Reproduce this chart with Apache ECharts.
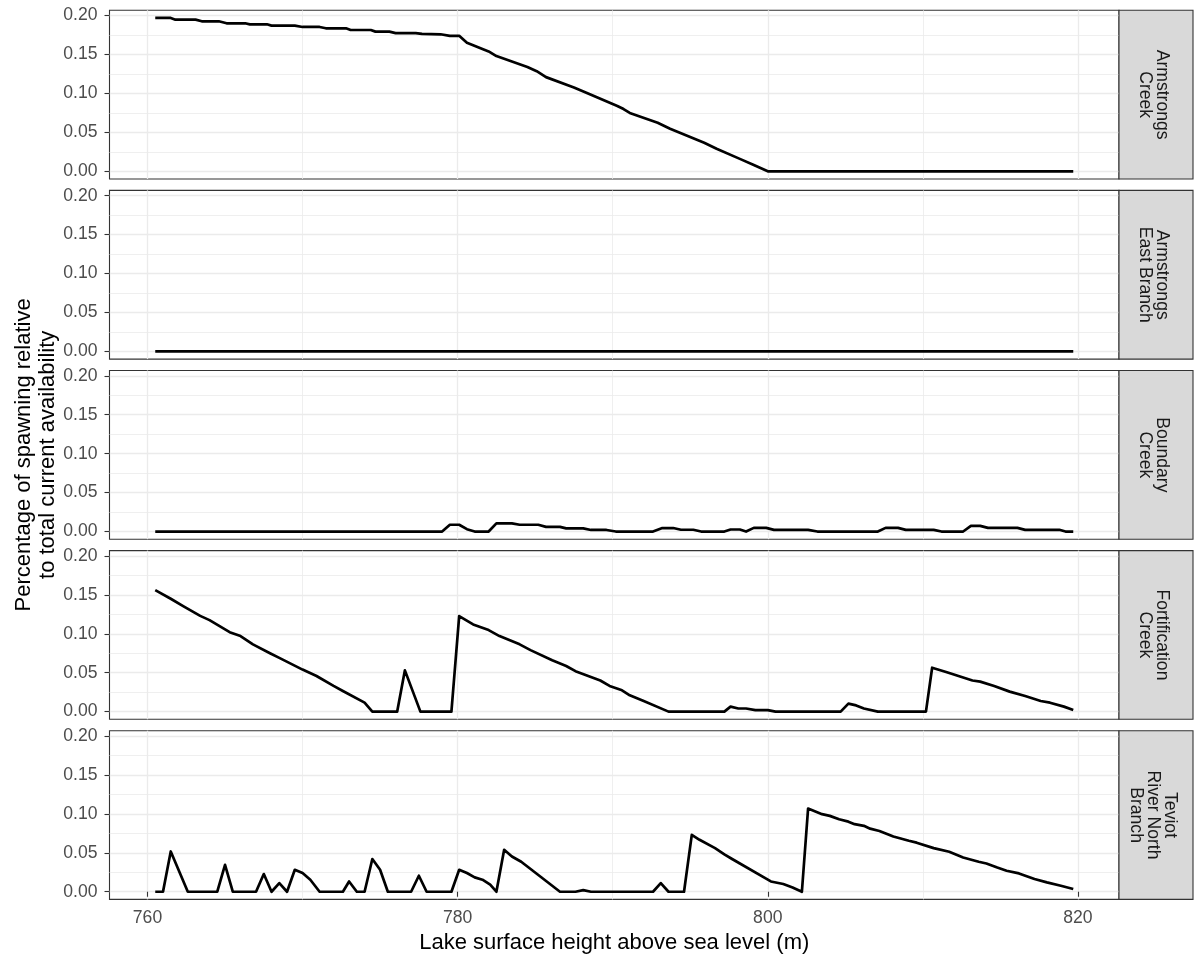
<!DOCTYPE html>
<html>
<head>
<meta charset="utf-8">
<script src="https://cdn.jsdelivr.net/npm/echarts@6/dist/echarts.min.js"></script>
<style>
  html, body { margin: 0; padding: 0; background: #fff; }
  #chart { width: 1196px; height: 962px; }
</style>
</head>
<body>
<div id="chart"></div>
<script>
// Stream names shown in the facet strips
const streamNames = [
  'Armstrongs\nCreek',
  'Armstrongs\nEast Branch',
  'Boundary\nCreek',
  'Fortification\nCreek',
  'Teviot\nRiver North\nBranch'
];

// Lake level (m) and share of spawning habitat, one pair of arrays per stream
const armstrongsX = [760.5, 761.5, 761.8, 763.1, 763.5, 764.6, 765.1, 766.3, 766.6, 767.7, 768.0, 769.5,
  770.0, 771.1, 771.5, 772.8, 773.1, 774.4, 774.7, 775.6, 776.0, 777.3, 777.7, 778.9, 779.5, 780.1,
  780.6, 782.0, 782.5, 784.5, 785.1, 785.7, 787.5, 788.3, 790.3, 790.7, 791.1, 792.9, 793.7, 795.9,
  796.7, 798.2, 799.1, 800.0, 819.7];
const armstrongsY = [0.197, 0.197, 0.1948, 0.1948, 0.1927, 0.1927, 0.1901, 0.1901, 0.1888, 0.1888, 0.1871, 0.1871,
  0.1854, 0.1854, 0.1837, 0.1837, 0.1815, 0.1815, 0.1794, 0.1794, 0.1775, 0.1775, 0.1765, 0.1760, 0.174, 0.174,
  0.165, 0.154, 0.148, 0.134, 0.1286, 0.121, 0.1077, 0.1008, 0.084, 0.080, 0.075, 0.0623, 0.0546, 0.0367,
  0.029, 0.016, 0.008, 0, 0];

const eastBranchX = [760.5, 819.7];
const eastBranchY = [0, 0];

const boundaryX = [760.5, 779.0, 779.5, 780.1, 780.6, 781.1, 782.0, 782.5, 783.5, 784.0, 785.2, 785.7,
  786.6, 787.0, 788.1, 788.6, 789.6, 790.2, 792.6, 793.2, 793.9, 794.4, 795.2, 795.7, 797.2, 797.6,
  798.2, 798.6, 799.1, 799.9, 800.4, 802.6, 803.2, 807.1, 807.6, 808.4, 808.9, 810.7, 811.2, 812.6,
  813.1, 813.7, 814.2, 816.1, 816.6, 818.8, 819.2, 819.7];
const boundaryY = [0, 0, 0.0087, 0.0087, 0.003, 0, 0, 0.0105, 0.0105, 0.0087, 0.0087, 0.006,
  0.006, 0.004, 0.004, 0.002, 0.002, 0, 0, 0.0045, 0.0045, 0.0023, 0.0023, 0, 0, 0.0026,
  0.0026, 0, 0.0047, 0.0047, 0.0022, 0.0022, 0, 0, 0.0047, 0.0047, 0.0022, 0.0022, 0, 0,
  0.0073, 0.0073, 0.0047, 0.0047, 0.0022, 0.0022, 0, 0];

const fortificationX = [760.5, 761.5, 762.3, 763.4, 764.0, 765.3, 766.0, 766.8, 767.9, 768.5, 770.0, 770.9,
  772.0, 772.6, 774.0, 774.5, 776.1, 776.6, 777.6, 779.6, 780.1, 781.0, 782.0, 782.7, 784.0, 784.7,
  786.1, 787.0, 787.6, 789.2, 789.8, 790.6, 791.1, 792.0, 793.6, 797.2, 797.6, 798.1, 798.6, 799.2,
  800.0, 800.5, 804.7, 805.2, 805.7, 806.2, 807.1, 810.2, 810.6, 811.5, 812.3, 813.2, 813.7, 814.6,
  815.6, 816.6, 817.6, 818.2, 819.1, 819.7];
const fortificationY = [0.156, 0.145, 0.1355, 0.123, 0.1175, 0.102, 0.097, 0.0864, 0.075, 0.069, 0.054, 0.0458,
  0.033, 0.0265, 0.0115, 0, 0, 0.053, 0, 0, 0.1227, 0.112, 0.1047, 0.097, 0.0864, 0.079,
  0.066, 0.0586, 0.052, 0.040, 0.033, 0.0274, 0.021, 0.0137, 0, 0, 0.0064, 0.004, 0.004, 0.002,
  0.002, 0, 0, 0.0103, 0.008, 0.004, 0, 0, 0.0564, 0.051, 0.0458, 0.040, 0.0385, 0.033,
  0.0257, 0.020, 0.0137, 0.0115, 0.0064, 0.0022];

const teviotX = [760.5, 761.0, 761.5, 762.6, 764.5, 765.0, 765.5, 767.0, 767.5, 768.0, 768.5, 769.0,
  769.5, 770.0, 770.5, 771.1, 772.6, 773.0, 773.5, 774.0, 774.5, 775.0, 775.5, 777.0, 777.5, 778.0,
  779.6, 780.1, 780.6, 781.1, 781.6, 782.1, 782.5, 783.0, 783.5, 784.1, 786.6, 787.6, 788.1, 788.6,
  792.6, 793.1, 793.6, 794.6, 795.1, 795.6, 796.6, 797.2, 797.7, 800.2, 801.0, 801.6, 802.2, 802.6,
  803.5, 804.0, 804.6, 805.2, 805.6, 806.2, 806.6, 807.2, 808.1, 809.1, 809.6, 810.7, 811.7, 812.6,
  813.6, 814.1, 814.8, 815.4, 816.2, 817.2, 818.0, 818.9, 819.7];
const teviotY = [0, 0, 0.0517, 0, 0, 0.0346, 0, 0, 0.0227, 0, 0.0111, 0,
  0.0282, 0.024, 0.0154, 0, 0, 0.0132, 0, 0, 0.042, 0.0282, 0, 0, 0.0205, 0,
  0, 0.0282, 0.024, 0.0184, 0.0154, 0.009, 0, 0.0538, 0.0453, 0.0385, 0, 0, 0.002, 0,
  0, 0.0111, 0, 0, 0.073, 0.0667, 0.056, 0.048, 0.042, 0.0132, 0.0099, 0.0055, 0, 0.1068,
  0.0996, 0.0974, 0.093, 0.090, 0.0868, 0.0846, 0.081, 0.078, 0.071, 0.0654, 0.063, 0.056, 0.0513, 0.044,
  0.0385, 0.0363, 0.031, 0.027, 0.0235, 0.0163, 0.012, 0.0077, 0.0035];

// Axis breaks
const xMajorTicks = [760, 780, 800, 820];
const xMinorTicks = [770, 790, 810];
const yMajorTicks = [0, 0.05, 0.10, 0.15, 0.20];
const yMinorTicks = [0.025, 0.075, 0.125, 0.175];

const seriesX = [armstrongsX, eastBranchX, boundaryX, fortificationX, teviotX];
const seriesY = [armstrongsY, eastBranchY, boundaryY, fortificationY, teviotY];

// Layout of the stacked facets
const FONT = '"Liberation Sans", Arial, Helvetica, sans-serif';
const X_MIN = 757.55, X_MAX = 822.65;
const Y_MIN = -0.00985, Y_MAX = 0.2068;
const PANEL_LEFT = 109.5, PANEL_RIGHT = 1119, PANEL_TOP = 10.3, PANEL_H = 168.7, PANEL_STEP = 180.1;
const STRIP_W = 74;

const grids = [], xAxes = [], yAxes = [], series = [], graphics = [];

streamNames.forEach((name, i) => {
  const top = PANEL_TOP + i * PANEL_STEP;
  const isBottom = i === streamNames.length - 1;
  grids.push({
    left: PANEL_LEFT, top: top, width: PANEL_RIGHT - PANEL_LEFT, height: PANEL_H,
    show: true, borderColor: '#333333', borderWidth: 1.1, backgroundColor: '#ffffff'
  });
  // major x axis: carries the data, labels on the bottom facet only
  xAxes.push({
    type: 'value', gridIndex: i, min: X_MIN, max: X_MAX, position: 'bottom',
    axisLine: { show: false },
    axisTick: { show: isBottom, customValues: xMajorTicks, length: 5, lineStyle: { color: '#333333', width: 1.1 } },
    axisLabel: { show: isBottom, customValues: xMajorTicks, color: '#4d4d4d', fontSize: 17.6, fontFamily: FONT, margin: 10 },
    splitLine: { show: true, lineStyle: { color: '#ebebeb', width: 1.3 } }
  });
  // minor x grid lines
  xAxes.push({
    type: 'value', gridIndex: i, min: X_MIN, max: X_MAX,
    axisLine: { show: false },
    axisTick: { show: false, customValues: xMinorTicks },
    axisLabel: { show: false },
    splitLine: { show: true, lineStyle: { color: '#ebebeb', width: 0.8 } }
  });
  yAxes.push({
    type: 'value', gridIndex: i, min: Y_MIN, max: Y_MAX, position: 'left',
    axisLine: { show: false },
    axisTick: { show: true, customValues: yMajorTicks, length: 5, lineStyle: { color: '#333333', width: 1.1 } },
    axisLabel: {
      show: true, customValues: yMajorTicks, color: '#4d4d4d', fontSize: 17.6, fontFamily: FONT, margin: 12,
      formatter: v => v.toFixed(2)
    },
    splitLine: { show: true, lineStyle: { color: '#ebebeb', width: 1.3 } }
  });
  yAxes.push({
    type: 'value', gridIndex: i, min: Y_MIN, max: Y_MAX,
    axisLine: { show: false },
    axisTick: { show: false, customValues: yMinorTicks },
    axisLabel: { show: false },
    splitLine: { show: true, lineStyle: { color: '#ebebeb', width: 0.8 } }
  });
  series.push({
    type: 'line', name: name.replace(/\n/g, ' '),
    xAxisIndex: 2 * i, yAxisIndex: 2 * i,
    data: seriesX[i].map((x, k) => [x, seriesY[i][k]]),
    symbol: 'none', showSymbol: false, silent: true,
    lineStyle: { color: '#000000', width: 2.7, join: 'round' },
    z: 3
  });
  // facet strip on the right
  graphics.push({
    type: 'rect', z: 10,
    shape: { x: PANEL_RIGHT, y: top, width: STRIP_W, height: PANEL_H },
    style: { fill: '#d9d9d9', stroke: '#333333', lineWidth: 1.1 }
  });
  graphics.push({
    type: 'text', z: 11,
    x: PANEL_RIGHT + STRIP_W / 2 - 3, y: top + PANEL_H / 2,
    rotation: -Math.PI / 2,
    style: {
      text: name, fill: '#1a1a1a', fontSize: 17.6, fontFamily: FONT, lineHeight: 17,
      align: 'center', verticalAlign: 'middle', textAlign: 'center', textVerticalAlign: 'middle'
    }
  });
});

// axis titles
const panelsMidY = PANEL_TOP + (4 * PANEL_STEP + PANEL_H) / 2;
graphics.push({
  type: 'text', z: 11, x: 36, y: panelsMidY, rotation: Math.PI / 2,
  style: {
    text: 'Percentage of spawning relative\nto total current availability',
    fill: '#000000', fontSize: 22, fontFamily: FONT, lineHeight: 24,
    align: 'center', verticalAlign: 'middle', textAlign: 'center', textVerticalAlign: 'middle'
  }
});
graphics.push({
  type: 'text', z: 11, x: (PANEL_LEFT + PANEL_RIGHT) / 2, y: 943,
  style: {
    text: 'Lake surface height above sea level (m)',
    fill: '#000000', fontSize: 22, fontFamily: FONT,
    align: 'center', verticalAlign: 'middle', textAlign: 'center', textVerticalAlign: 'middle'
  }
});

const chart = echarts.init(document.getElementById('chart'), null, { renderer: 'canvas' });
chart.setOption({
  animation: false,
  backgroundColor: '#ffffff',
  textStyle: { fontFamily: FONT },
  grid: grids,
  xAxis: xAxes,
  yAxis: yAxes,
  series: series,
  graphic: graphics
});
</script>
</body>
</html>
